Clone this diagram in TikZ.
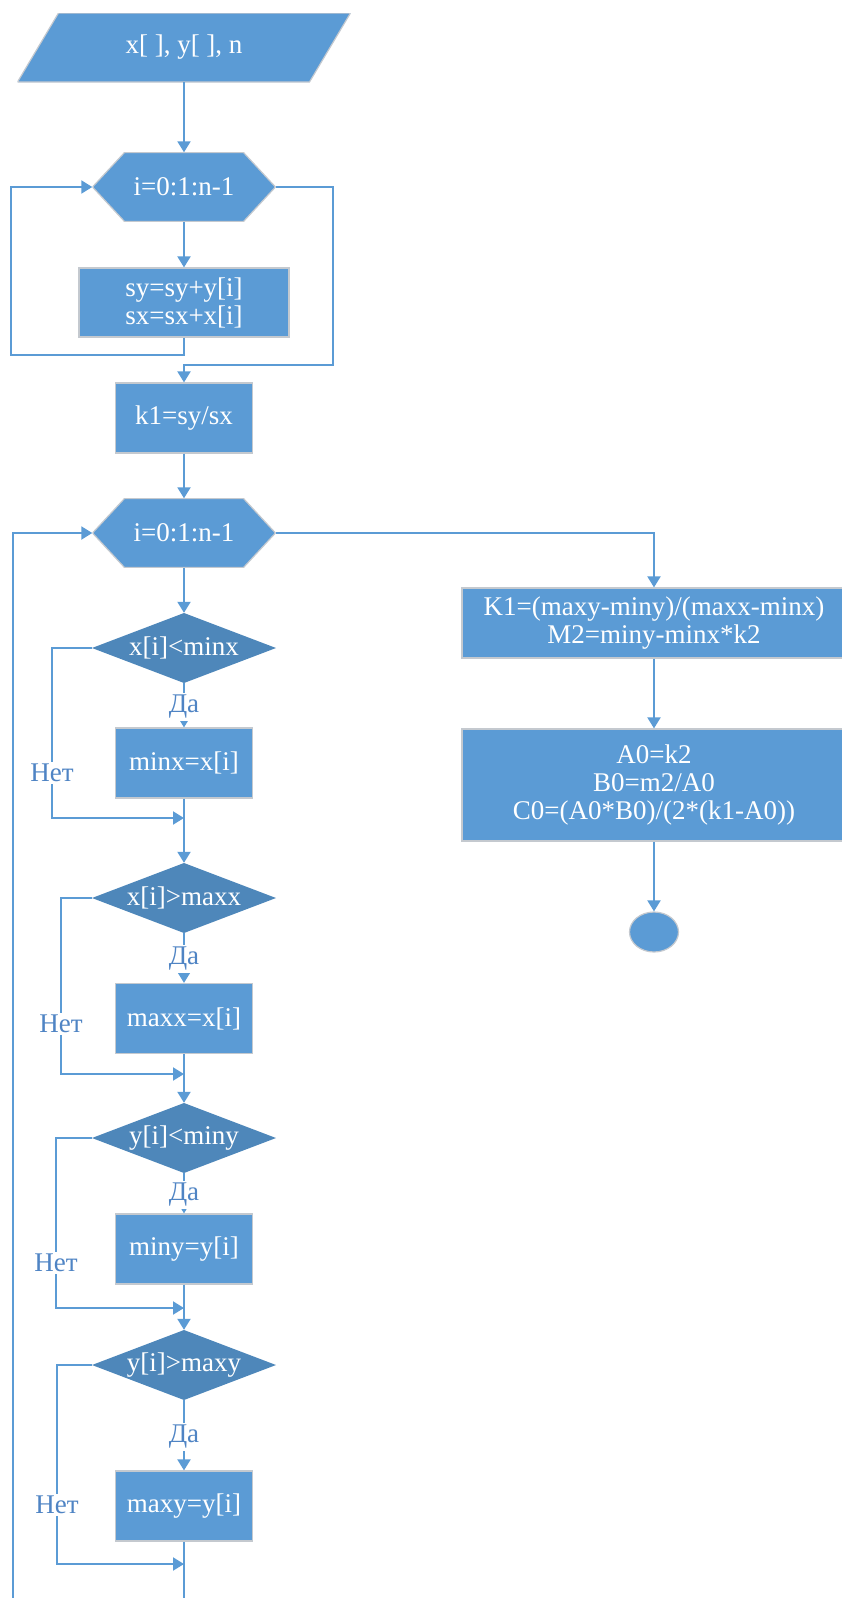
\documentclass[tikz,border=0pt]{standalone}
\usepackage{fontspec}
\setmainfont{Liberation Serif}
\usetikzlibrary{arrows.meta,shapes.geometric,calc}
\definecolor{boxblue}{HTML}{5B9BD5}
\definecolor{diablue}{HTML}{4E87BA}
\definecolor{lineblue}{HTML}{5B9BD5}
\definecolor{lblblue}{HTML}{4F84C4}
\definecolor{edgegray}{HTML}{C4C9CF}
\begin{document}
\begin{tikzpicture}[x=1pt,y=-1pt,
  font=\fontsize{27}{28}\selectfont,
  proc/.style={rectangle, fill=boxblue, draw=edgegray, line width=1.2pt, text=white, align=center, inner sep=0pt},
  pbox/.style={proc, minimum width=137pt, minimum height=70pt},
  hexa/.style={rectangle, minimum width=183pt, minimum height=69pt, inner sep=0pt, text=white,
    path picture={\path[fill=boxblue,draw=edgegray,line width=1.2pt]
      (path picture bounding box.west) -- ([xshift=32pt]path picture bounding box.north west)
      -- ([xshift=-32pt]path picture bounding box.north east) -- (path picture bounding box.east)
      -- ([xshift=-32pt]path picture bounding box.south east) -- ([xshift=32pt]path picture bounding box.south west) -- cycle;}},
  dia/.style={rectangle, minimum width=184pt, minimum height=70pt, inner sep=0pt, text=white,
    path picture={\path[fill=diablue]
      (path picture bounding box.west) -- (path picture bounding box.north)
      -- (path picture bounding box.east) -- (path picture bounding box.south) -- cycle;}},
  para/.style={rectangle, minimum width=333pt, minimum height=69pt, inner sep=0pt, text=white,
    path picture={\path[fill=boxblue,draw=edgegray,line width=1.2pt]
      ([xshift=41pt]path picture bounding box.north west) -- (path picture bounding box.north east)
      -- ([xshift=-41pt]path picture bounding box.south east) -- (path picture bounding box.south west) -- cycle;}},
  conn/.style={draw=lineblue, line width=2pt, -{Triangle[length=11pt,width=13pt]}},
  lbl/.style={text=lblblue, fill=white, inner sep=2pt}
]
\useasboundingbox (0,0) rectangle (841,1598);

% nodes
\node[para] (in) at (184,47.5) {x[ ], y[ ], n};
\node[hexa] (h1) at (184,187) {i=0:1:n-1};
\node[proc, minimum width=210pt, minimum height=69pt] (b1) at (184,302.5) {sy=sy+y[i]\\sx=sx+x[i]};
\node[proc, minimum width=137pt, minimum height=70pt] (k1) at (184,418) {k1=sy/sx};
\node[hexa] (h2) at (184,533) {i=0:1:n-1};
\node[dia] (d1) at (184,648) {x[i]<minx};
\node[pbox] (s1) at (184,763) {minx=x[i]};
\node[dia] (d2) at (184,898) {x[i]>maxx};
\node[pbox] (s2) at (184,1018.5) {maxx=x[i]};
\node[dia] (d3) at (184,1138) {y[i]<miny};
\node[pbox] (s3) at (184,1249) {miny=y[i]};
\node[dia] (d4) at (184,1365) {y[i]>maxy};
\node[pbox] (s4) at (184,1506) {maxy=y[i]};
\node[proc, minimum width=384pt, minimum height=70pt] (r1) at (654,623) {K1=(maxy-miny)/(maxx-minx)\\M2=miny-minx*k2};
\node[proc, minimum width=384pt, minimum height=112pt] (r2) at (654,785) {A0=k2\\B0=m2/A0\\C0=(A0*B0)/(2*(k1-A0))};
\node[ellipse, fill=boxblue, draw=edgegray, line width=1.2pt, minimum width=49pt, minimum height=40pt, inner sep=0pt] (fin) at (654,932) {};

% helper coordinates
\coordinate (l1a) at (11,355);
\coordinate (r1a) at (333,365);
\coordinate (n1) at (52,818);   \coordinate (m1) at (184,818);
\coordinate (n2) at (61,1074);  \coordinate (m2) at (184,1074);
\coordinate (n3) at (56,1308);  \coordinate (m3) at (184,1308);
\coordinate (n4) at (57,1564);  \coordinate (m4) at (184,1564);
\coordinate (bot) at (184,1630);
\coordinate (lb) at (13,1630);

% connectors
\draw[conn] (in.south) -- (h1.north);
\draw[conn] (h1.south) -- (b1.north);
\draw[conn] (b1.south) |- (l1a) |- (h1.west);
\draw[conn] (h1.east) -| (r1a) -| (k1.north);
\draw[conn] (k1.south) -- (h2.north);
\draw[conn] (h2.south) -- (d1.north);
\draw[conn] (d1.south) -- (s1.north);
\draw[conn] (d1.west) -| (n1) -- (m1);
\draw[conn] (s1.south) -- (d2.north);
\draw[conn] (d2.south) -- (s2.north);
\draw[conn] (d2.west) -| (n2) -- (m2);
\draw[conn] (s2.south) -- (d3.north);
\draw[conn] (d3.south) -- (s3.north);
\draw[conn] (d3.west) -| (n3) -- (m3);
\draw[conn] (s3.south) -- (d4.north);
\draw[conn] (d4.south) -- (s4.north);
\draw[conn] (d4.west) -| (n4) -- (m4);
\draw[conn] (s4.south) -- (bot) -- (lb) |- (h2.west);
\draw[conn] (h2.east) -| (r1.north);
\draw[conn] (r1.south) -- (r2.north);
\draw[conn] (r2.south) -- (fin.north);

% labels
\node[lbl] (da1) at (184,707) {Да};
\node[lbl] (da2) at (184,959) {Да};
\node[lbl] (da3) at (184,1195) {Да};
\node[lbl] (da4) at (184,1437) {Да};
\node[lbl] (no1) at (52,773) {Нет};
\node[lbl] (no2) at (61,1024) {Нет};
\node[lbl] (no3) at (56,1263) {Нет};
\node[lbl] (no4) at (57,1505) {Нет};
\end{tikzpicture}
\end{document}
